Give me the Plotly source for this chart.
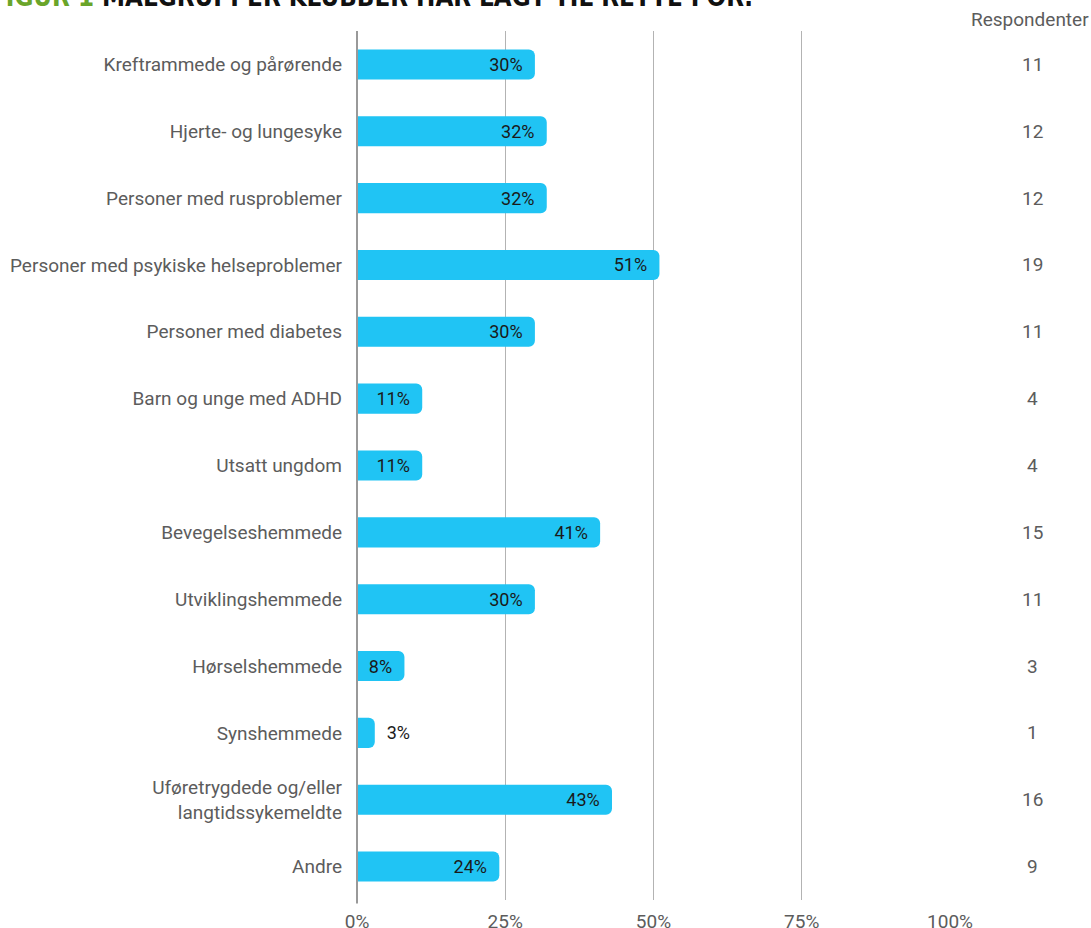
import plotly.graph_objects as go

categories = [
    "Kreftrammede og pårørende",
    "Hjerte- og lungesyke",
    "Personer med rusproblemer",
    "Personer med psykiske helseproblemer",
    "Personer med diabetes",
    "Barn og unge med ADHD",
    "Utsatt ungdom",
    "Bevegelseshemmede",
    "Utviklingshemmede",
    "Hørselshemmede",
    "Synshemmede",
    "Uføretrygdede og/eller<br>langtidssykemeldte",
    "Andre",
]
percent = [30, 32, 32, 51, 30, 11, 11, 41, 30, 8, 3, 43, 24]
respondents = [11, 12, 12, 19, 11, 4, 4, 15, 11, 3, 1, 16, 9]
x_ticks = [0, 25, 50, 75, 100]
x_tick_labels = ["0%", "25%", "50%", "75%", "100%"]

W, H = 1091, 928
ML, MR, MT, MB = 357, 141, 31, 28
PW = W - ML - MR
PH = H - MT - MB

NB = "\u00a0"
texts = [f"{v}%{NB*2}" if v >= 5 else f"{NB*2}{v}%" for v in percent]
positions = ["inside" if v >= 5 else "outside" for v in percent]

LABEL_FONT = dict(family="Roboto", size=19, color="#5c5c5c")
BAR_FONT = dict(family="Roboto", size=18, color="#1a1a1a")

fig = go.Figure()
fig.add_trace(go.Bar(
    x=percent, y=categories, orientation="h",
    marker=dict(color="#20C4F4", cornerradius=6, line=dict(width=0)),
    text=texts, textposition=positions, insidetextanchor="end",
    textfont=BAR_FONT, outsidetextfont=BAR_FONT, insidetextfont=BAR_FONT,
    cliponaxis=False, hoverinfo="skip",
))

fig.update_layout(
    width=W, height=H,
    margin=dict(l=ML, r=MR, t=MT, b=MB, pad=0, autoexpand=False),
    paper_bgcolor="white", plot_bgcolor="white",
    bargap=0.55, showlegend=False,
    font=LABEL_FONT,
    xaxis=dict(range=[0, 100], tickvals=x_ticks, ticktext=x_tick_labels,
               showgrid=True, gridcolor="#b3b3b3", gridwidth=1,
               zeroline=False, showline=False, ticks="", automargin=False,
               ticklabelstandoff=8, tickfont=LABEL_FONT),
    yaxis=dict(autorange="reversed", showgrid=False, zeroline=False,
               showline=False, ticks="", ticklabelstandoff=14, automargin=False,
               tickfont=LABEL_FONT),
)

# zero (baseline) line
fig.add_shape(type="line", xref="paper", yref="paper", x0=0, x1=0, y0=-0.004, y1=1,
              line=dict(color="#999999", width=2), layer="above")

# respondents column
col_x = (1032 - ML) / PW
for c, r in zip(categories, respondents):
    fig.add_annotation(x=col_x, y=c, xref="paper", yref="y", text=str(r),
                       showarrow=False, xanchor="center", font=LABEL_FONT)
fig.add_annotation(x=(1030 - ML) / PW, y=1 + (MT - 20) / PH, xref="paper", yref="paper",
                   text="Respondenter", showarrow=False, xanchor="center", yanchor="middle",
                   font=LABEL_FONT)

# title (cropped at top of page in reference)
fig.add_annotation(
    x=(-12 - ML) / PW, y=1 + (MT - 14) / PH, xref="paper", yref="paper",
    xanchor="left", yanchor="bottom", showarrow=False,
    text="<b><span style='color:#6aa52a'>FIGUR 1 </span>MÅLGRUPPER KLUBBER HAR LAGT TIL RETTE FOR:</b>",
    font=dict(family="DejaVu Sans Condensed", size=25.7, color="#111111"),
)

fig.write_html("out.html")
